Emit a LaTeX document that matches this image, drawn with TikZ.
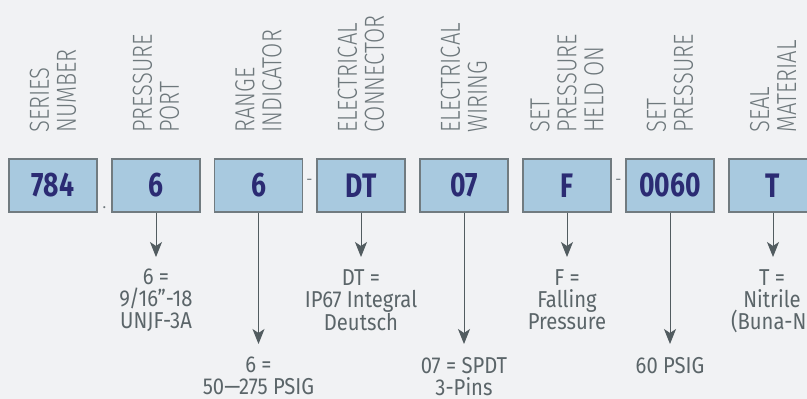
\documentclass[tikz,border=0pt]{standalone}
\usepackage{fontspec}
\setmainfont{Fira Sans}
\newfontfamily\labelfont{Fira Sans}[UprightFont={* Light}, FakeStretch=0.8]
\newfontfamily\codefont{Fira Sans}[FakeStretch=0.78]
\newfontfamily\descfont{Fira Sans}[FakeStretch=0.88]
\usetikzlibrary{arrows.meta}
\definecolor{bg}{HTML}{F1F2F4}
\definecolor{boxfill}{HTML}{A8C9DF}
\definecolor{boxline}{HTML}{717B80}
\definecolor{codecol}{HTML}{2B2B73}
\definecolor{labcol}{HTML}{6E787C}
\definecolor{desccol}{HTML}{5B6569}
\definecolor{arrowcol}{HTML}{525C60}
\tikzset{
  codebox/.style={draw=boxline, line width=1.2pt, fill=boxfill, minimum width=88pt, minimum height=53pt, inner sep=0pt, text=codecol, font=\codefont\bfseries\fontsize{34}{34}\selectfont},
  toplabel/.style={rotate=90, anchor=west, align=left, inner sep=0pt, text=labcol, font=\labelfont\fontsize{27.5}{27}\selectfont},
  desc/.style={anchor=north, align=center, inner sep=0pt, text=desccol, font=\descfont\fontsize{23}{22}\selectfont},
  sep/.style={anchor=base, inner sep=0pt, text=labcol, font=\fontsize{15}{15}\selectfont},
  pointer/.style={draw=arrowcol, line width=1pt, -{Stealth[length=15pt, width=12pt, inset=4pt]}}
}
\begin{document}
\begin{tikzpicture}[x=1pt, y=-1pt]
\fill[bg] (0,0) rectangle (807,399);
\useasboundingbox (0,0) rectangle (807,399);
% boxes
\node[codebox] (b1) at (53,185.5) {784};
\node[codebox] (b2) at (156,185.5) {6};
\node[codebox] (b3) at (258.5,185.5) {6};
\node[codebox] (b4) at (361,185.5) {DT};
\node[codebox] (b5) at (464,185.5) {07};
\node[codebox] (b6) at (567,185.5) {F};
\node[codebox] (b7) at (670,185.5) {0060};
\node[codebox] (b8) at (773,185.5) {T};
% top labels
\node[toplabel] (l1) at (53,133) {SERIES\\NUMBER};
\node[toplabel] (l2) at (156,133) {PRESSURE\\PORT};
\node[toplabel] (l3) at (258.5,133) {RANGE\\INDICATOR};
\node[toplabel] (l4) at (361,133) {ELECTRICAL\\CONNECTOR};
\node[toplabel] (l5) at (464,133) {ELECTRICAL\\WIRING};
\node[toplabel] (l6) at (567,133) {SET\\PRESSURE\\HELD ON};
\node[toplabel] (l7) at (670,133) {SET\\PRESSURE};
\node[toplabel] (l8) at (773,133) {SEAL\\MATERIAL};
% separators
\node[sep] (s1) at (104.5,208) {.};
\node[sep] (s2) at (309.5,184) {-};
\node[sep] (s3) at (618.5,184) {-};
% arrow tips
\coordinate (t2) at (156,257);
\coordinate (t3) at (258.5,344);
\coordinate (t4) at (361,257);
\coordinate (t5) at (464,344);
\coordinate (t6) at (567,257);
\coordinate (t7) at (670,344);
\coordinate (t8) at (773,257);
\draw[pointer] (b2.south) -- (t2);
\draw[pointer] (b3.south) -- (t3);
\draw[pointer] (b4.south) -- (t4);
\draw[pointer] (b5.south) -- (t5);
\draw[pointer] (b6.south) -- (t6);
\draw[pointer] (b7.south) -- (t7);
\draw[pointer] (b8.south) -- (t8);
% descriptions
\node[desc] (d2) at (156,269) {6 =\\9/16”-18\\UNJF-3A};
\node[desc] (d3) at (258.5,357) {6 =\\50—275 PSIG};
\node[desc] (d4) at (361,269) {DT =\\IP67 Integral\\Deutsch};
\node[desc] (d5) at (464,357) {07 = SPDT\\3-Pins};
\node[desc] (d6) at (567,269) {F =\\Falling\\Pressure};
\node[desc] (d7) at (670,357) {60 PSIG};
\node[desc] (d8) at (772,269) {T =\\Nitrile\\(Buna-N)};
\end{tikzpicture}
\end{document}
